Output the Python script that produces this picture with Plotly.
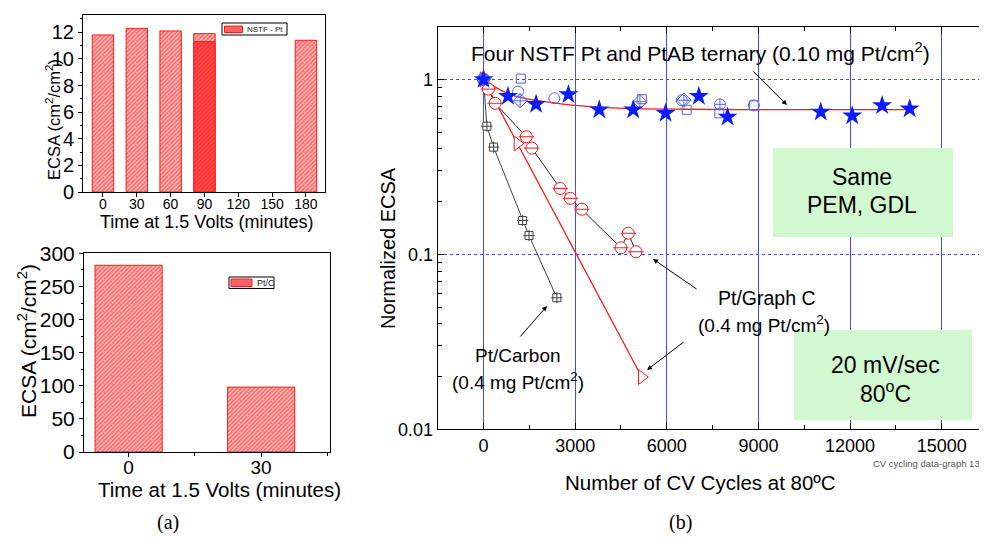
import plotly.graph_objects as go

W, H = 987, 541
OFF = 8  # the html page body keeps its default 8px margin, so shift everything back by it
FONT = "Liberation Sans, Arial, sans-serif"

# ---- data (a) ----
nstf_time = [0, 30, 60, 90, 180]
nstf_ecsa = [11.8, 12.3, 12.1, 11.9, 11.4]
nstf_time_b = [90]
nstf_ecsa_b = [11.3]
time_ticks = [0, 30, 60, 90, 120, 150, 180]

ptc_time = [0, 30]
ptc_ecsa = [282, 98]

# ---- data (b) ----
star_cyc = [0, 800, 1720, 2780, 3790, 4900, 5960, 7050, 7990, 11040, 12070, 13050, 13950]
star_val = [1.0, 0.80, 0.72, 0.82, 0.67, 0.67, 0.64, 0.80, 0.61, 0.65, 0.62, 0.71, 0.68]

circ_cyc = [0, 1130, 2320, 6490, 8850]
circ_val = [1.0, 0.85, 0.78, 0.76, 0.71]

sq_cyc = [0, 1220, 5180, 6650, 7720, 8850]
sq_val = [1.0, 1.01, 0.77, 0.67, 0.64, 0.71]

dia_cyc = [0, 1200, 5120, 6560]
dia_val = [1.0, 0.755, 0.745, 0.76]

cc_cyc = [0, 7740]
cc_val = [1.0, 0.72]

fit_cyc = [0, 400, 800, 1200, 1800, 2400, 3000, 4000, 5000, 6500, 9000, 12000, 13950]
fit_val = [1.0, 0.90, 0.83, 0.79, 0.755, 0.73, 0.71, 0.69, 0.68, 0.675, 0.672, 0.672, 0.672]

gc_cyc = [0, 160, 380, 1400, 1580, 2510, 2840, 3220, 4500, 4740, 4990]
gc_val = [1.0, 0.88, 0.73, 0.47, 0.405, 0.238, 0.209, 0.181, 0.109, 0.132, 0.1035]

tri_cyc = [0, 1110, 5180]
tri_val = [1.0, 0.43, 0.0199]

carb_cyc = [0, 110, 330, 1280, 1490, 2400]
carb_val = [1.0, 0.54, 0.41, 0.156, 0.128, 0.0565]


def px(x):
    return (x - OFF) / W


def py(y):
    return 1 - (y - OFF) / H


RED = "#ff1a1a"
BLUE = "#0a1cff"
LBLUE = "#5563f2"
GRAY = "#404040"
GRID = "#3b4cff"

fig = go.Figure()

hatch = dict(shape="/", fgcolor=RED, bgcolor="#ffc8c8", size=3, solidity=0.65)

fig.add_trace(go.Bar(x=nstf_time, y=nstf_ecsa, width=19, name="NSTF - Pt", showlegend=False,
                     marker=dict(color="#ffc8c8", pattern=hatch, line=dict(color=RED, width=1)),
                     xaxis="x", yaxis="y"))
fig.add_trace(go.Bar(x=nstf_time_b, y=nstf_ecsa_b, width=19, showlegend=False,
                     marker=dict(color="#ff4a4a", pattern=dict(shape="/", fgcolor=RED, bgcolor="#ff4a4a",
                                                               size=3, solidity=0.5),
                                 line=dict(color=RED, width=1)),
                     xaxis="x", yaxis="y"))
fig.add_trace(go.Bar(x=ptc_time, y=ptc_ecsa, width=15.2, name="Pt/C", showlegend=False,
                     marker=dict(color="#ffc8c8", pattern=hatch, line=dict(color=RED, width=1)),
                     xaxis="x2", yaxis="y2"))

# right panel
fig.add_trace(go.Scatter(x=fit_cyc, y=fit_val, mode="lines", line=dict(color=RED, width=1.3, shape="spline"),
                         showlegend=False, xaxis="x3", yaxis="y3"))
fig.add_trace(go.Scatter(x=carb_cyc, y=carb_val, mode="lines+markers", line=dict(color=GRAY, width=1),
                         marker=dict(symbol="square", size=8, color="white", line=dict(color=GRAY, width=1)),
                         showlegend=False, xaxis="x3", yaxis="y3"))
fig.add_trace(go.Scatter(x=carb_cyc, y=carb_val, mode="markers",
                         marker=dict(symbol="cross-thin-open", size=8, color=GRAY, line=dict(color=GRAY, width=1)),
                         showlegend=False, xaxis="x3", yaxis="y3"))
fig.add_trace(go.Scatter(x=tri_cyc, y=tri_val, mode="lines+markers", line=dict(color=RED, width=1.3),
                         marker=dict(symbol="triangle-right", size=13, color="white", line=dict(color=RED, width=1)),
                         showlegend=False, xaxis="x3", yaxis="y3"))
fig.add_trace(go.Scatter(x=gc_cyc, y=gc_val, mode="lines+markers", line=dict(color="#222222", width=1),
                         marker=dict(symbol="circle", size=12, color="white", line=dict(color=RED, width=1)),
                         showlegend=False, xaxis="x3", yaxis="y3"))
fig.add_trace(go.Scatter(x=gc_cyc, y=gc_val, mode="markers",
                         marker=dict(symbol="line-ew-open", size=11, color=RED, line=dict(color=RED, width=1)),
                         showlegend=False, xaxis="x3", yaxis="y3"))
for cyc, val, sym, size in [(circ_cyc, circ_val, "circle-open", 11),
                            (sq_cyc, sq_val, "square-open", 9),
                            (dia_cyc, dia_val, "diamond-cross-open", 11),
                            (cc_cyc, cc_val, "circle-cross-open", 11)]:
    fig.add_trace(go.Scatter(x=cyc, y=val, mode="markers",
                             marker=dict(symbol=sym, size=size, color=LBLUE, line=dict(color=LBLUE, width=1)),
                             showlegend=False, xaxis="x3", yaxis="y3"))
fig.add_trace(go.Scatter(x=star_cyc, y=star_val, mode="markers",
                         marker=dict(symbol="star", size=15, color=BLUE, line=dict(width=0)),
                         showlegend=False, xaxis="x3", yaxis="y3"))

left_axis = dict(showline=True, linecolor="black", linewidth=1, mirror=True, ticks="outside",
                 ticklen=4, tickcolor="black", showgrid=False, zeroline=False)

annotations = []
shapes = []


def text(x, y, s, size, angle=0, color="black", family=FONT, xanchor="center"):
    annotations.append(dict(x=px(x), y=py(y), xref="paper", yref="paper", text=s, showarrow=False,
                            textangle=angle, xanchor=xanchor, yanchor="middle",
                            font=dict(size=size, color=color, family=family)))


def arrow(x, y, ax, ay):
    annotations.append(dict(x=px(x), y=py(y), xref="paper", yref="paper", text="", showarrow=True,
                            ax=ax, ay=ay, arrowhead=2, arrowsize=1, arrowwidth=1, arrowcolor="black",
                            standoff=0))


def rect(x0, y0, x1, y1, fill, line_color=None, width=0):
    shapes.append(dict(type="rect", xref="paper", yref="paper", x0=px(x0), x1=px(x1), y0=py(y1), y1=py(y0),
                       fillcolor=fill, line=dict(color=line_color or fill, width=width), layer="above"))


# legend boxes (a)
rect(222, 23, 287, 35, "white", "black", 1)
rect(224.5, 26, 242.5, 32.5, "#ff6262", RED, 1)
text(245, 29.5, "NSTF - Pt", 8, xanchor="left", color="#222222")
rect(229, 277, 274, 288.5, "white", "black", 1)
rect(231, 279, 252, 286.5, "#ff6262", RED, 1)
text(254.5, 283, "Pt/C", 9, xanchor="left", color="#222222")

# axis titles (a)
text(53, 120, "ECSA (cm<sup>2</sup>/cm<sup>2</sup>)", 16.5, angle=-90)
text(206, 222, "Time at 1.5 Volts (minutes)", 18)
text(27, 341, "ECSA (cm<sup>2</sup>/cm<sup>2</sup>)", 21, angle=-90)
text(219, 489, "Time at 1.5 Volts (minutes)", 20.5)

# axis titles (b)
text(388, 248, "Normalized ECSA", 20, angle=-90)
text(700, 482, "Number of CV Cycles at 80ºC", 20.5)

# labels (b)
text(700, 52, "Four NSTF Pt and PtAB ternary (0.10 mg Pt/cm<sup>2</sup>)", 21)
arrow(787, 105, -35, -35)
text(518, 355, "Pt/Carbon", 19)
text(518, 381, "(0.4 mg Pt/cm<sup>2</sup>)", 19)
arrow(547, 306, -28, 32)
text(767, 298, "Pt/Graph C", 19.5)
text(764, 324, "(0.4 mg Pt/cm<sup>2</sup>)", 19)
arrow(653, 259, 45, 31)
arrow(647, 370, 38, -29)

rect(773, 148, 953, 237, "#d2f8d0")
rect(794, 330, 972, 420, "#d2f8d0")
text(862, 177, "Same", 23)
text(862, 205, "PEM, GDL", 23)
text(885, 365, "20 mV/sec", 23)
text(885, 392, "80<sup>o</sup>C", 23)
text(982, 463, "CV cycling data-graph 13", 9.5, color="#555555", xanchor="right")

text(168, 522, "(a)", 20, family="Liberation Serif, Times New Roman, serif")
text(680, 522, "(b)", 20, family="Liberation Serif, Times New Roman, serif")

fig.update_layout(
    width=W, height=H, margin=dict(l=0, r=0, t=0, b=0, autoexpand=False),
    paper_bgcolor="white", plot_bgcolor="white",
    font=dict(family=FONT, color="black"),
    barmode="overlay", showlegend=False,
    xaxis=dict(left_axis, domain=[px(83), px(325)], range=[-17.7, 196.9], tickvals=time_ticks,
               tickfont=dict(size=14), ticklabelstandoff=-5, anchor="y"),
    yaxis=dict(left_axis, domain=[py(192), py(15)], range=[0, 13.3], dtick=2, tickfont=dict(size=20),
               minor=dict(ticks="outside", dtick=1, ticklen=2), anchor="x"),
    xaxis2=dict(left_axis, domain=[px(84), px(330)], range=[-10.1, 45.6], tickvals=ptc_time,
                tickfont=dict(size=19), ticklabelstandoff=-6,
                minor=dict(ticks="outside", dtick=15, ticklen=3), anchor="y2"),
    yaxis2=dict(left_axis, domain=[py(452), py(253)], range=[0, 300.5], dtick=50, tickfont=dict(size=21),
                minor=dict(ticks="outside", dtick=25, ticklen=2), anchor="x2"),
    xaxis3=dict(domain=[px(437.7), px(986)], range=[-1500, 16450], dtick=3000, tick0=0, tickformat="d",
                showline=True, linecolor="black", mirror="ticks", ticks="inside", ticklen=6,
                tickcolor="black", showgrid=True, gridcolor=GRID, gridwidth=1, zeroline=False,
                minor=dict(ticks="inside", dtick=1500, ticklen=4, showgrid=False),
                tickfont=dict(size=18), anchor="y3"),
    yaxis3=dict(type="log", domain=[py(429.3), py(26.7)], range=[-2, 0.301], dtick=1,
                showline=True, linecolor="black", mirror="ticks", ticks="inside", ticklen=6,
                tickcolor="black", showgrid=True, gridcolor=GRID, gridwidth=1, griddash="dot",
                minor=dict(ticks="inside", ticklen=4, showgrid=False),
                tickfont=dict(size=18), anchor="x3"),
    annotations=annotations,
    shapes=shapes,
)

fig.write_html("out.html")
